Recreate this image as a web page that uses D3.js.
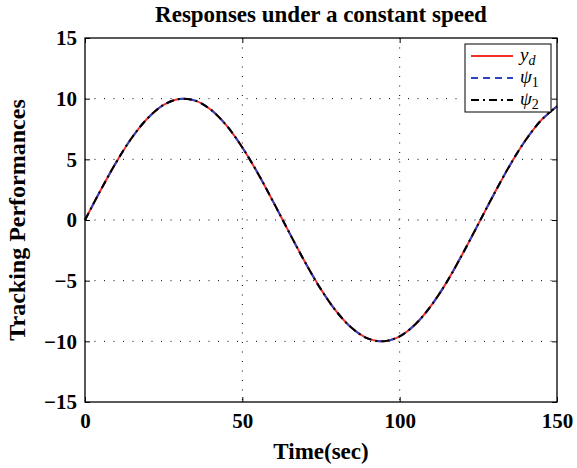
<!DOCTYPE html>
<html>
<head>
<meta charset="utf-8">
<script src="https://cdn.jsdelivr.net/npm/d3@7"></script>
<style>
  body { margin: 0; background: #fff; }
  svg text { font-family: "Liberation Serif", "Times New Roman", serif; font-weight: bold; }
</style>
</head>
<body>
<svg id="chart" width="577" height="468"></svg>
<script>
// valores (cada 5 s)
const tiempo = [0,5,10,15,20,25,30,35,40,45,50,55,60,65,70,75,80,85,90,95,100,105,110,115,120,125,130,135,140,145,150];
const yd   = [0,2.47,4.79,6.82,8.41,9.49,9.97,9.84,9.09,7.78,5.98,3.82,1.41,-1.08,-3.51,-5.72,-7.57,-8.95,-9.78,-9.99,-9.59,-8.59,-7.06,-5.10,-2.79,-0.33,2.15,4.50,6.57,8.23,9.38];
const psi1 = [0,2.47,4.79,6.82,8.41,9.49,9.97,9.84,9.09,7.78,5.98,3.82,1.41,-1.08,-3.51,-5.72,-7.57,-8.95,-9.78,-9.99,-9.59,-8.59,-7.06,-5.10,-2.79,-0.33,2.15,4.50,6.57,8.23,9.38];
const psi2 = [0,2.47,4.79,6.82,8.41,9.49,9.97,9.84,9.09,7.78,5.98,3.82,1.41,-1.08,-3.51,-5.72,-7.57,-8.95,-9.78,-9.99,-9.59,-8.59,-7.06,-5.10,-2.79,-0.33,2.15,4.50,6.57,8.23,9.38];
const xTicks = [0,50,100,150];
const yTicks = [-15,-10,-5,0,5,10,15];

const series = [
  { name: 'yd',   values: yd,   color: '#f2302a', dash: null },
  { name: 'psi1', values: psi1, color: '#2d44c4', dash: '7,5' },
  { name: 'psi2', values: psi2, color: '#000000', dash: '8,4,2,4' },
];

const svg = d3.select('#chart');
const margin = { left: 85, right: 20, top: 38, bottom: 66 };
const W = 577, H = 468;

const x = d3.scaleLinear().domain([0,150]).range([margin.left, W - margin.right]);
const y = d3.scaleLinear().domain([-15,15]).range([H - margin.bottom, margin.top]);

// rejilla punteada
const grid = svg.append('g');
grid.selectAll('.gx').data(xTicks.slice(1, -1)).enter().append('line')
  .attr('x1', d => x(d)).attr('x2', d => x(d))
  .attr('y1', y(15)).attr('y2', y(-15))
  .attr('stroke', '#000').attr('stroke-width', 1).attr('stroke-dasharray', '1,8.5');
grid.selectAll('.gy').data(yTicks.slice(1, -1)).enter().append('line')
  .attr('x1', x(0)).attr('x2', x(150))
  .attr('y1', d => y(d)).attr('y2', d => y(d))
  .attr('stroke', '#000').attr('stroke-width', 1).attr('stroke-dasharray', '1,8.5');

// curvas
const line = d3.line()
  .x((d, i) => x(tiempo[i]))
  .y(d => y(d))
  .curve(d3.curveCatmullRom);

series.forEach(s => {
  svg.append('path')
    .datum(s.values)
    .attr('d', line)
    .attr('fill', 'none')
    .attr('stroke', s.color)
    .attr('stroke-width', 2)
    .attr('stroke-dasharray', s.dash);
});

// ejes con marcas hacia dentro
const fmt = d => d < 0 ? '\u2212' + Math.abs(d) : d;
svg.append('g').attr('transform', `translate(0,${y(-15)})`)
  .call(d3.axisBottom(x).tickValues(xTicks).tickSizeInner(-5).tickSizeOuter(0).tickPadding(11).tickFormat(fmt));
svg.append('g').attr('transform', `translate(0,${y(15)})`)
  .call(d3.axisTop(x).tickValues(xTicks).tickSizeInner(-5).tickSizeOuter(0).tickFormat(''));
svg.append('g').attr('transform', `translate(${x(0)},0)`)
  .call(d3.axisLeft(y).tickValues(yTicks).tickSizeInner(-5).tickSizeOuter(0).tickPadding(8).tickFormat(fmt));
svg.append('g').attr('transform', `translate(${x(150)},0)`)
  .call(d3.axisRight(y).tickValues(yTicks).tickSizeInner(-5).tickSizeOuter(0).tickFormat(''));

svg.selectAll('.tick text').attr('font-size', 21).attr('fill', '#000')
  .style('font-family', '"Liberation Serif", serif').style('font-weight', 'bold');
svg.selectAll('.domain').remove();
svg.selectAll('.tick line').attr('stroke', '#000');

// marco
svg.append('rect')
  .attr('x', x(0)).attr('y', y(15))
  .attr('width', x(150) - x(0)).attr('height', y(-15) - y(15))
  .attr('fill', 'none').attr('stroke', '#000').attr('stroke-width', 1.3);

// titulos
svg.append('text').attr('x', (x(0) + x(150)) / 2).attr('y', 22)
  .attr('text-anchor', 'middle').attr('font-size', 23).text('Responses under a constant speed');
svg.append('text').attr('x', (x(0) + x(150)) / 2).attr('y', 459)
  .attr('text-anchor', 'middle').attr('font-size', 23).text('Time(sec)');
svg.append('text')
  .attr('transform', `translate(25,${(y(15) + y(-15)) / 2}) rotate(-90)`)
  .attr('text-anchor', 'middle').attr('font-size', 24).text('Tracking Performances');

// leyenda
const lg = svg.append('g').attr('transform', 'translate(465,44)');
lg.append('rect').attr('width', 86).attr('height', 68)
  .attr('fill', '#fff').attr('stroke', '#000').attr('stroke-width', 1);
const labels = [
  { main: 'y', sub: 'd', italicSub: true },
  { main: '\u03c8', sub: '1', italicSub: false },
  { main: '\u03c8', sub: '2', italicSub: false },
];
series.forEach((s, i) => {
  const ly = 12 + i * 22;
  lg.append('line').attr('x1', 6).attr('x2', 48).attr('y1', ly).attr('y2', ly)
    .attr('stroke', s.color).attr('stroke-width', 2).attr('stroke-dasharray', s.dash);
  const t = lg.append('text').attr('x', 55).attr('y', ly + 5)
    .attr('font-size', 19).style('font-weight', 'normal').style('font-style', 'italic');
  t.append('tspan').text(labels[i].main);
  t.append('tspan').attr('dy', 4).attr('font-size', 14)
    .style('font-style', labels[i].italicSub ? 'italic' : 'normal').text(labels[i].sub);
});
</script>
</body>
</html>
